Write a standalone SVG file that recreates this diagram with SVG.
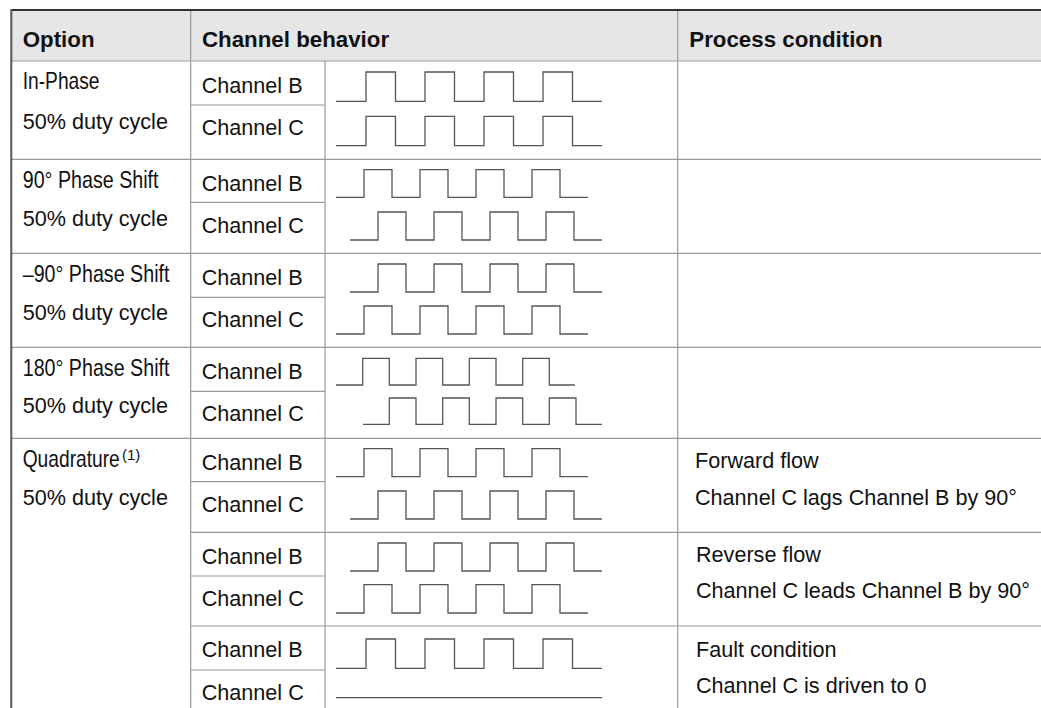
<svg xmlns="http://www.w3.org/2000/svg" width="1041" height="708" viewBox="0 0 1041 708">
<style>
.grid{stroke:#9a9a9a;stroke-width:1.2;fill:none}
.wave{stroke:#555;stroke-width:1.3;fill:none;stroke-linejoin:miter}
.hd{font-family:"Liberation Sans",Arial,sans-serif;font-weight:bold;font-size:22.3px;fill:#111}
.tx{font-family:"Liberation Sans",Arial,sans-serif;font-size:21.6px;fill:#111}
.nr{font-family:"Liberation Sans",Arial,sans-serif;font-size:24px;fill:#111}
.sup{font-family:"Liberation Sans",Arial,sans-serif;font-size:15px;fill:#111}
</style>
<rect x="0" y="0" width="1041" height="708" fill="#fff"/>
<rect id="header-bg" x="11" y="10" width="1030" height="51" fill="#e6e6e6"/>
<g id="grid">
  <line class="grid" x1="11" y1="61" x2="1041" y2="61"/>
  <line class="grid" x1="11" y1="159.3" x2="1041" y2="159.3"/>
  <line class="grid" x1="11" y1="253.3" x2="1041" y2="253.3"/>
  <line class="grid" x1="11" y1="347.3" x2="1041" y2="347.3"/>
  <line class="grid" x1="11" y1="438.3" x2="1041" y2="438.3"/>
  <line class="grid" x1="190.7" y1="532.3" x2="1041" y2="532.3"/>
  <line class="grid" x1="190.7" y1="626" x2="1041" y2="626"/>
  <line class="grid" x1="190.7" y1="105" x2="325" y2="105"/>
  <line class="grid" x1="190.7" y1="202.3" x2="325" y2="202.3"/>
  <line class="grid" x1="190.7" y1="297.3" x2="325" y2="297.3"/>
  <line class="grid" x1="190.7" y1="391.3" x2="325" y2="391.3"/>
  <line class="grid" x1="190.7" y1="481.7" x2="325" y2="481.7"/>
  <line class="grid" x1="190.7" y1="576" x2="325" y2="576"/>
  <line class="grid" x1="190.7" y1="670" x2="325" y2="670"/>
  <line class="grid" x1="190.7" y1="10" x2="190.7" y2="708"/>
  <line class="grid" x1="325" y1="61" x2="325" y2="708"/>
  <line class="grid" x1="677.7" y1="10" x2="677.7" y2="708"/>
  <line x1="11" y1="10" x2="1041" y2="10" stroke="#333" stroke-width="2"/>
  <line x1="11.3" y1="9" x2="11.3" y2="708" stroke="#555" stroke-width="2"/>
</g>
<g id="header">
  <text class="hd" x="22.7" y="46.5">Option</text>
  <text class="hd" x="202" y="46.5">Channel behavior</text>
  <text class="hd" x="689.3" y="46.5">Process condition</text>
</g>
<g id="row-inphase">
  <text class="nr" transform="translate(22.7,89.3) scale(0.8,1)">In-Phase</text>
  <text class="tx" x="22.7" y="129.3">50% duty cycle</text>
  <text class="tx" x="201.7" y="92.7">Channel B</text>
  <text class="tx" x="201.7" y="134.5">Channel C</text>
  <path class="wave" d="M336,101.3H366V72H395.5V101.3H425V72H454.5V101.3H484V72H513.5V101.3H543V72H572.5V101.3H602"/>
  <path class="wave" d="M336,145.7H366V116.3H395.5V145.7H425V116.3H454.5V145.7H484V116.3H513.5V145.7H543V116.3H572.5V145.7H602"/>
</g>
<g id="row-90">
  <text class="nr" transform="translate(22.7,188.3) scale(0.82,1)">90° Phase Shift</text>
  <text class="tx" x="22.7" y="226">50% duty cycle</text>
  <text class="tx" x="201.7" y="190.7">Channel B</text>
  <text class="tx" x="201.7" y="232.5">Channel C</text>
  <path class="wave" d="M336,197.3H364V169.7H392V197.3H420V169.7H448V197.3H476V169.7H504V197.3H532V169.7H560V197.3H588"/>
  <path class="wave" d="M350,240H378V212H406V240H434V212H462V240H490V212H518V240H546V212H574V240H602"/>
</g>
<g id="row-minus90">
  <text class="nr" transform="translate(22.7,281.7) scale(0.82,1)">–90° Phase Shift</text>
  <text class="tx" x="22.7" y="320">50% duty cycle</text>
  <text class="tx" x="201.7" y="284.7">Channel B</text>
  <text class="tx" x="201.7" y="327.3">Channel C</text>
  <path class="wave" d="M350,292H378V264H406V292H434V264H462V292H490V264H518V292H546V264H574V292H602"/>
  <path class="wave" d="M336,334H364V306H392V334H420V306H448V334H476V306H504V334H532V306H560V334H588"/>
</g>
<g id="row-180">
  <text class="nr" transform="translate(22.7,375.7) scale(0.82,1)">180° Phase Shift</text>
  <text class="tx" x="22.7" y="413.3">50% duty cycle</text>
  <text class="tx" x="201.7" y="378.7">Channel B</text>
  <text class="tx" x="201.7" y="420.5">Channel C</text>
  <path class="wave" d="M336,385H362.7V358.3H389.3V385H416V358.3H442.7V385H469.3V358.3H496V385H522.7V358.3H549.3V385H575"/>
  <path class="wave" d="M363,424.3H389.3V398H416V424.3H442.7V398H469.3V424.3H496V398H522.7V424.3H549.3V398H576V424.3H602"/>
</g>
<g id="row-quadrature">
  <text class="nr" transform="translate(22.7,467) scale(0.8,1)">Quadrature</text>
  <text class="sup" x="122" y="460">(1)</text>
  <text class="tx" x="22.7" y="505">50% duty cycle</text>
  <text class="tx" x="201.7" y="469.5">Channel B</text>
  <text class="tx" x="201.7" y="511.5">Channel C</text>
  <path class="wave" d="M336,476.7H364V448.7H392V476.7H420V448.7H448V476.7H476V448.7H504V476.7H532V448.7H560V476.7H588"/>
  <path class="wave" d="M350,519H378V491H406V519H434V491H462V519H490V491H518V519H546V491H574V519H602"/>
  <text class="tx" x="695" y="468.3">Forward flow</text>
  <text class="tx" x="695" y="505">Channel C lags Channel B by 90°</text>
</g>
<g id="row-reverse">
  <text class="tx" x="201.7" y="563.5">Channel B</text>
  <text class="tx" x="201.7" y="605.5">Channel C</text>
  <path class="wave" d="M350,571H378V543H406V571H434V543H462V571H490V543H518V571H546V543H574V571H602"/>
  <path class="wave" d="M336,613H364V584.7H392V613H420V584.7H448V613H476V584.7H504V613H532V584.7H560V613H588"/>
  <text class="tx" x="696" y="561.7">Reverse flow</text>
  <text class="tx" x="696" y="598.3">Channel C leads Channel B by 90°</text>
</g>
<g id="row-fault">
  <text class="tx" x="201.7" y="657">Channel B</text>
  <text class="tx" x="201.7" y="699.5">Channel C</text>
  <path class="wave" d="M336,668.3H366V639H395.5V668.3H425V639H454.5V668.3H484V639H513.5V668.3H543V639H572.5V668.3H602"/>
  <path class="wave" d="M336,697.7H602"/>
  <text class="tx" x="696" y="656.7">Fault condition</text>
  <text class="tx" x="696" y="692.7">Channel C is driven to 0</text>
</g>
</svg>
